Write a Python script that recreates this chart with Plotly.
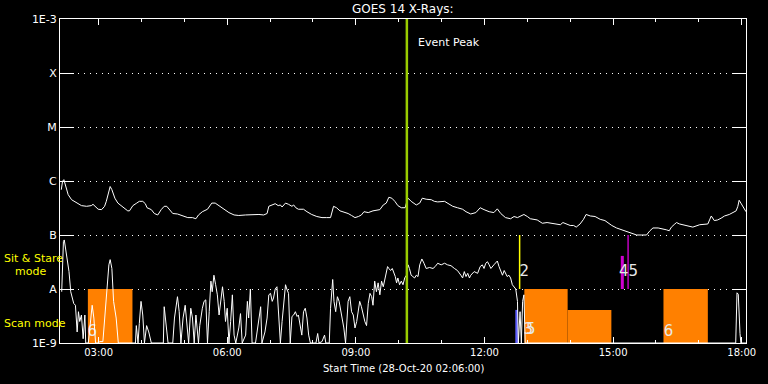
import pandas as pd
import plotly.graph_objects as go

DAY = pd.Timestamp("2020-10-28")

# ---- GOES 1-8 A (upper curve): hours of day, flux W/m^2
long_hours = [2.13, 2.16, 2.19, 2.24, 2.29, 2.37, 2.49, 2.60, 2.72, 2.83, 2.87, 2.91, 2.99, 3.07, 3.14, 3.18, 3.24, 3.27, 3.31, 3.38,
              3.45, 3.57, 3.68, 3.72, 3.80, 3.89, 3.95, 4.03, 4.09, 4.13, 4.23, 4.30, 4.38, 4.46, 4.53, 4.59, 4.65, 4.73, 4.84, 4.96,
              5.08, 5.19, 5.27, 5.33, 5.42, 5.54, 5.59, 5.64, 5.72, 5.81, 5.93, 6.04, 6.16, 6.27, 6.43, 6.58, 6.74, 6.85, 6.93, 6.97,
              7.05, 7.12, 7.19, 7.24, 7.28, 7.36, 7.43, 7.51, 7.55, 7.60, 7.66,
              7.78, 7.86, 7.97, 8.09, 8.21, 8.32, 8.41, 8.48, 8.55, 8.63, 8.75, 8.82, 8.90, 8.98, 9.06, 9.13, 9.19, 9.29, 9.40, 9.56,
              9.64, 9.71, 9.77, 9.84, 9.91, 9.98, 10.06, 10.15, 10.18, 10.22, 10.29, 10.41, 10.49, 10.55, 10.64, 10.76, 10.83, 10.91, 11.07, 11.14,
              11.26, 11.37, 11.49, 11.57, 11.68, 11.80, 11.90, 11.99, 12.11, 12.22, 12.30, 12.38, 12.49, 12.61, 12.69, 12.77, 12.84, 12.92, 13.00, 13.07,
              13.23,
              13.35, 13.46, 13.58, 13.69, 13.77, 13.83, 13.93, 14.00, 14.08, 14.14, 14.23, 14.31, 14.37, 14.47, 14.58, 14.70, 14.81, 14.89, 14.97, 15.08,
              15.20, 15.32, 15.39, 15.47, 15.55, 15.66, 15.78, 15.86, 15.93, 16.05, 16.17, 16.24, 16.31, 16.36, 16.44, 16.48, 16.55, 16.63, 16.75, 16.86,
              17.02, 17.13, 17.21, 17.25, 17.29, 17.36, 17.44, 17.52, 17.60, 17.71, 17.79, 17.87, 17.91, 17.94, 17.98, 18.04, 18.10]
long_flux = [6.9e-7, 9.9e-7, 1.06e-6, 7.9e-7, 5.6e-7, 4.5e-7, 3.9e-7, 3.5e-7, 3.4e-7, 3.5e-7, 3.7e-7, 3.4e-7, 3.0e-7, 2.95e-7, 3.4e-7, 4.2e-7, 6.0e-7, 7.9e-7, 6.9e-7, 4.8e-7,
             3.9e-7, 3.3e-7, 2.8e-7, 2.8e-7, 3.5e-7, 3.9e-7, 4.2e-7, 4.2e-7, 3.8e-7, 3.2e-7, 2.95e-7, 2.5e-7, 2.35e-7, 2.95e-7, 3.4e-7, 3.4e-7, 2.95e-7, 2.5e-7, 2.45e-7, 2.25e-7,
             2.1e-7, 2.1e-7, 2.0e-7, 2.35e-7, 2.7e-7, 3.0e-7, 3.4e-7, 3.9e-7, 3.9e-7, 3.5e-7, 3.0e-7, 2.6e-7, 2.35e-7, 2.3e-7, 2.35e-7, 2.4e-7, 2.4e-7, 2.35e-7, 2.5e-7, 3.4e-7,
             3.6e-7, 3.8e-7, 3.5e-7, 3.6e-7, 3.3e-7, 3.9e-7, 3.7e-7, 3.4e-7, 3.6e-7, 3.2e-7, 3.0e-7,
             3.0e-7, 2.7e-7, 2.4e-7, 2.2e-7, 2.1e-7, 2.1e-7, 2.1e-7, 3.4e-7, 3.2e-7, 2.8e-7, 2.6e-7, 2.5e-7, 2.3e-7, 2.1e-7, 2.2e-7, 2.35e-7, 2.7e-7, 2.6e-7, 2.8e-7, 2.95e-7,
             3.6e-7, 3.9e-7, 5.0e-7, 4.8e-7, 4.2e-7, 3.5e-7, 3.2e-7, 3.2e-7, 3.9e-7, 4.8e-7, 4.2e-7, 3.6e-7, 3.9e-7, 4.8e-7, 4.6e-7, 4.5e-7, 4.2e-7, 4.1e-7, 4.2e-7, 3.9e-7,
             3.4e-7, 3.2e-7, 3.0e-7, 2.7e-7, 2.45e-7, 2.6e-7, 3.2e-7, 2.95e-7, 2.7e-7, 2.6e-7, 3.05e-7, 2.5e-7, 2.1e-7, 2.0e-7, 2.2e-7, 2.1e-7, 2.2e-7, 2.4e-7, 2.2e-7, 2.0e-7,
             1.9e-7,
             1.65e-7, 1.7e-7, 1.65e-7, 1.6e-7, 1.55e-7, 1.7e-7, 1.6e-7, 1.5e-7, 1.5e-7, 1.4e-7, 1.6e-7, 1.95e-7, 2.4e-7, 2.25e-7, 2.2e-7, 1.95e-7, 1.85e-7, 1.65e-7, 1.5e-7, 1.35e-7,
             1.25e-7, 1.15e-7, 1.1e-7, 1.07e-7, 1.0e-7, 1.0e-7, 1.0e-7, 1.2e-7, 1.35e-7, 1.35e-7, 1.3e-7, 1.25e-7, 1.2e-7, 1.4e-7, 1.6e-7, 1.7e-7, 1.6e-7, 1.55e-7, 1.5e-7, 1.4e-7,
             1.55e-7, 1.6e-7, 1.6e-7, 1.9e-7, 2.25e-7, 1.85e-7, 1.9e-7, 2.05e-7, 2.25e-7, 2.4e-7, 2.6e-7, 2.8e-7, 3.4e-7, 4.4e-7, 3.9e-7, 3.3e-7, 2.7e-7]

# ---- GOES 0.5-4 A (lower curve)
short_hours = [2.14, 2.18, 2.20, 2.23, 2.27, 2.31, 2.35, 2.39, 2.42, 2.46, 2.50, 2.53, 2.56, 2.60, 2.64, 2.68, 2.70, 2.76, 2.81, 2.85,
               2.89, 2.93, 2.99, 3.03, 3.10, 3.18, 3.24, 3.27, 3.31, 3.35, 3.41, 3.46, 3.86, 3.88, 3.92, 3.95, 3.99, 4.03, 4.07, 4.12,
               4.17, 4.23, 4.51, 4.53, 4.57, 4.62, 4.73, 4.77, 4.84, 4.88, 4.92, 4.97, 5.02, 5.06, 5.10, 5.15, 5.19, 5.23, 5.27, 5.33,
               5.36, 5.42, 5.46, 5.50, 5.54, 5.58, 5.62, 5.65, 5.69, 5.73, 5.77, 5.81, 5.85, 5.89, 5.93, 5.96, 6.00, 6.04, 6.08, 6.12,
               6.16, 6.20, 6.27, 6.31, 6.35, 6.43, 6.47, 6.50, 6.54, 6.58, 6.66, 6.74, 6.78, 6.81, 6.88, 6.93, 6.97, 7.01, 7.05, 7.08,
               7.12, 7.16, 7.20, 7.24, 7.28, 7.32, 7.36, 7.39, 7.43, 7.47, 7.51, 7.55, 7.59, 7.63, 7.66,
               7.74, 7.78, 7.82, 7.86, 7.90, 7.94, 8.07, 8.11, 8.14, 8.21, 8.27, 8.30, 8.38, 8.41, 8.46, 8.49, 8.53, 8.57, 8.61, 8.65,
               8.69, 8.72, 8.76, 8.79, 8.82, 8.86, 8.90, 8.94, 8.98, 9.02, 9.06, 9.09, 9.13, 9.17, 9.21, 9.25, 9.29, 9.33, 9.37, 9.40,
               9.44, 9.48, 9.52, 9.56, 9.60, 9.64, 9.67, 9.71, 9.74, 9.77, 9.81, 9.85, 9.89, 9.92, 9.95, 9.98, 10.02, 10.06, 10.10, 10.14,
               10.18, 10.22, 10.25, 10.29, 10.33, 10.37, 10.41, 10.45, 10.49, 10.54, 10.59, 10.64, 10.72, 10.80, 10.85, 10.91, 10.99, 11.07, 11.14, 11.22,
               11.30, 11.37, 11.45, 11.49, 11.53, 11.57, 11.61, 11.65, 11.68, 11.76, 11.84, 11.90, 11.95, 11.99, 12.03, 12.07, 12.11, 12.15, 12.22, 12.30,
               12.34, 12.38, 12.42, 12.46, 12.49, 12.53, 12.57, 12.61, 12.65, 12.69, 12.73, 12.77, 12.79, 12.83, 12.86, 12.89, 12.92, 12.95,
               17.86, 17.89, 17.92, 17.96, 17.98, 18.10]
short_flux = [8.9e-9, 7.6e-8, 8.1e-8, 5.6e-8, 3.7e-8, 2.1e-8, 8.9e-9, 6.3e-9, 5.4e-9, 5.0e-9, 1.6e-9, 3.8e-9, 2.5e-9, 3.3e-9, 1.2e-9, 3.3e-9, 1e-9, 1e-9, 2.5e-9, 5.0e-9,
              2.9e-9, 1e-9, 1e-9, 1.06e-9, 1.06e-9, 7.8e-9, 2.8e-8, 3.5e-8, 2.4e-8, 5.9e-9, 2.9e-9, 1e-9, 1e-9, 2.1e-9, 1e-9, 2.3e-9, 5.9e-9, 3.3e-9, 1e-9, 2.1e-9,
              1.6e-9, 1e-9, 1e-9, 4.7e-9, 2.1e-9, 1e-9, 1e-9, 2.9e-9, 7.2e-9, 3.8e-9, 1e-9, 2.9e-9, 5.0e-9, 2.1e-9, 1e-9, 4.4e-9, 2.9e-9, 1e-9, 3.3e-9, 1e-9,
              2.1e-9, 4.4e-9, 5.9e-9, 6.3e-9, 1e-9, 3.8e-9, 1.4e-8, 8.9e-9, 1.8e-8, 1.2e-8, 7.8e-9, 3.3e-9, 5.9e-9, 1.1e-8, 5.9e-9, 2.5e-9, 4.4e-9, 1e-9, 2.5e-9, 7.8e-9,
              1.4e-9, 1e-9, 1.9e-9, 3.5e-9, 1e-9, 1.4e-9, 5.9e-9, 2.9e-9, 1.0e-8, 1e-9, 1e-9, 3.3e-9, 4.7e-9, 1e-9, 1.6e-9, 2.9e-9, 7.8e-9, 8.3e-9, 5.9e-9, 6.8e-9,
              1.0e-8, 1.1e-8, 3.8e-9, 1e-9, 2.5e-9, 5.9e-9, 1.2e-8, 1.0e-8, 8.3e-9, 1e-9, 3.1e-9, 3.3e-9, 3.8e-9, 3.1e-9, 3.3e-9,
              1.4e-9, 3.8e-9, 4.4e-9, 2.9e-9, 1.4e-9, 1e-9, 1e-9, 1.5e-9, 1e-9, 1.06e-9, 1.4e-9, 1e-9, 1e-9, 4.4e-9, 1.5e-8, 5.9e-9, 3.8e-9, 7.2e-9, 5.9e-9, 3.8e-9,
              2.3e-9, 1.9e-9, 1e-9, 2.9e-9, 5.9e-9, 7.2e-9, 3.8e-9, 3.3e-9, 1.9e-9, 2.5e-9, 3.8e-9, 5.9e-9, 4.7e-9, 3.3e-9, 2.5e-9, 2.1e-9, 5.4e-9, 8.3e-9, 7.2e-9, 5.0e-9,
              1.4e-8, 8.9e-9, 1.3e-8, 7.8e-9, 1.4e-8, 1.1e-8, 1.4e-8, 1.95e-8, 2.6e-8, 2.4e-8, 2.2e-8, 2.4e-8, 1.95e-8, 1.7e-8, 1.3e-8, 1.6e-8, 1.2e-8, 1.4e-8, 1.2e-8, 1.6e-8,
              1.8e-8, 2.8e-8, 2.4e-8, 1.8e-8, 1.7e-8, 1.6e-8, 1.8e-8, 1.7e-8, 2.8e-8, 3.6e-8, 3.0e-8, 2.4e-8, 2.5e-8, 2.4e-8, 2.6e-8, 3.0e-8, 2.8e-8, 3.0e-8, 2.8e-8, 2.7e-8,
              2.4e-8, 2.2e-8, 1.8e-8, 1.6e-8, 2.1e-8, 1.7e-8, 1.95e-8, 1.6e-8, 1.8e-8, 2.1e-8, 1.95e-8, 2.6e-8, 2.8e-8, 2.4e-8, 3.0e-8, 3.2e-8, 2.8e-8, 2.4e-8, 2.8e-8, 3.3e-8,
              2.6e-8, 2.1e-8, 1.8e-8, 2.2e-8, 1.95e-8, 1.7e-8, 1.8e-8, 1.6e-8, 1.2e-8, 1.1e-8, 1.0e-8, 5.9e-9, 1e-9, 3.8e-9, 1e-9, 5.9e-9, 7.8e-9, 1e-9,
              1e-9, 8.5e-9, 8.0e-9, 1.5e-9, 1e-9, 1e-9]

# ---- observation blocks (scan mode, orange)
scan_start = [2.75, 12.93, 13.94, 16.175]
scan_end = [3.79, 13.94, 14.96, 17.21]
scan_top = [1e-8, 1e-8, 4.1e-9, 1e-8]
scan_base = 1e-9

# blue and magenta bars, thin marker lines
blue_bar = dict(start=12.72, end=12.78, low=1e-9, high=4.1e-9)
magenta_bar = dict(start=15.18, end=15.25, low=1e-8, high=4.1e-8)
marker_hours = [12.82, 15.35]
marker_low = [1e-8, 1e-8]
marker_high = [1e-7, 1e-7]
marker_colors = ["#ffff00", "#c000c0"]

# numeric labels
label_text = ["6", "2", "3", "5", "45", "6"]
label_hours = [2.85, 12.93, 13.02, 13.08, 15.36, 16.29]
label_flux = [1.56e-9, 2.06e-8, 1.74e-9, 1.74e-9, 2.06e-8, 1.56e-9]

event_peak_hour = 10.19

y_tickvals = [1e-9, 1e-8, 1e-7, 1e-6, 1e-5, 1e-4, 1e-3]
y_ticktext = ["1E-9", "A", "B", "C", "M", "X", "1E-3"]
x_range_hours = [2.1, 18.1]


def t(hours):
    return [DAY + pd.Timedelta(hours=h) for h in hours]


FONT = "DejaVu Sans"
fig = go.Figure()

for s, e, top in zip(scan_start, scan_end, scan_top):
    fig.add_trace(go.Scatter(x=t([s, s, e, e, s]), y=[scan_base, top, top, scan_base, scan_base],
                             fill="toself", fillcolor="#ff8000", mode="lines",
                             line=dict(width=0, color="#ff8000"), hoverinfo="skip"))

for bar, col in [(blue_bar, "#6060ff"), (magenta_bar, "#d000d0")]:
    fig.add_trace(go.Scatter(x=t([bar["start"], bar["start"], bar["end"], bar["end"], bar["start"]]),
                             y=[bar["low"], bar["high"], bar["high"], bar["low"], bar["low"]],
                             fill="toself", fillcolor=col, mode="lines",
                             line=dict(width=0, color=col), hoverinfo="skip"))

for h, lo, hi, col in zip(marker_hours, marker_low, marker_high, marker_colors):
    fig.add_trace(go.Scatter(x=t([h, h]), y=[lo, hi], mode="lines",
                             line=dict(width=1.5, color=col), hoverinfo="skip"))

fig.add_trace(go.Scatter(x=t(label_hours), y=label_flux, mode="text", text=label_text,
                         textfont=dict(family=FONT, size=15, color="#e8e8e8"),
                         textposition="middle center", hoverinfo="skip"))

fig.add_trace(go.Scatter(x=t(long_hours), y=long_flux, mode="lines",
                         line=dict(color="white", width=1), hoverinfo="skip"))
fig.add_trace(go.Scatter(x=t(short_hours), y=short_flux, mode="lines",
                         line=dict(color="white", width=1), hoverinfo="skip"))

fig.add_vline(x=t([event_peak_hour])[0], line=dict(color="#99cc00", width=2.5), layer="above")

ann = dict(showarrow=False, font=dict(family=FONT, size=11, color="white"))
fig.add_annotation(text="GOES 14 X-Rays:", xref="paper", yref="paper", x=0.5, y=1,
                   yanchor="middle", yshift=10, **{**ann, "font": dict(family=FONT, size=12, color="white")})
fig.add_annotation(text="Event Peak", xref="x", yref="paper", x=t([event_peak_hour])[0], y=0.9275,
                   xanchor="left", yanchor="middle", xshift=9, **ann)
fig.add_annotation(text="Start Time (28-Oct-20 02:06:00)", xref="paper", yref="paper", x=0.5, y=0,
                   yanchor="middle", yshift=-25, **{**ann, "font": dict(family=FONT, size=10, color="white")})
yl = dict(showarrow=False, font=dict(family=FONT, size=11, color="#ffff00"), xref="paper", yref="paper",
          x=0, xanchor="left", yanchor="middle")
fig.add_annotation(text="Sit & Stare", y=0.2608, xshift=-58, **yl)
fig.add_annotation(text="mode", y=0.2222, xshift=-47, **yl)
fig.add_annotation(text="Scan mode", y=0.0602, xshift=-58, **yl)

fig.update_layout(
    width=768, height=384, margin=dict(l=60, r=18, t=19, b=41),
    paper_bgcolor="black", plot_bgcolor="black", showlegend=False,
    font=dict(family=FONT, color="white"),
    xaxis=dict(type="date", range=t(x_range_hours), showgrid=False, zeroline=False,
               showline=True, linecolor="white", linewidth=1, mirror="ticks",
               ticks="inside", ticklen=6, tickcolor="white", tickwidth=1,
               tick0="2020-10-28 00:00", dtick=3 * 3600 * 1000, tickformat="%H:%M",
               tickfont=dict(family=FONT, size=10, color="white"),
               minor=dict(dtick=3600 * 1000, ticks="inside", ticklen=3, tickcolor="white", showgrid=False)),
    yaxis=dict(type="log", range=[-9, -3], tickvals=y_tickvals, ticktext=y_ticktext,
               showline=True, linecolor="white", linewidth=1, mirror="ticks",
               ticks="inside", ticklen=14, tickcolor="white", tickwidth=1,
               showgrid=True, gridcolor="white", gridwidth=1, griddash="1px,5px", zeroline=False,
               tickfont=dict(family=FONT, size=11, color="white")),
)

fig.write_html("out.html", config={"displayModeBar": False},
               post_script="document.body.style.margin='0';document.body.style.background='black';")
